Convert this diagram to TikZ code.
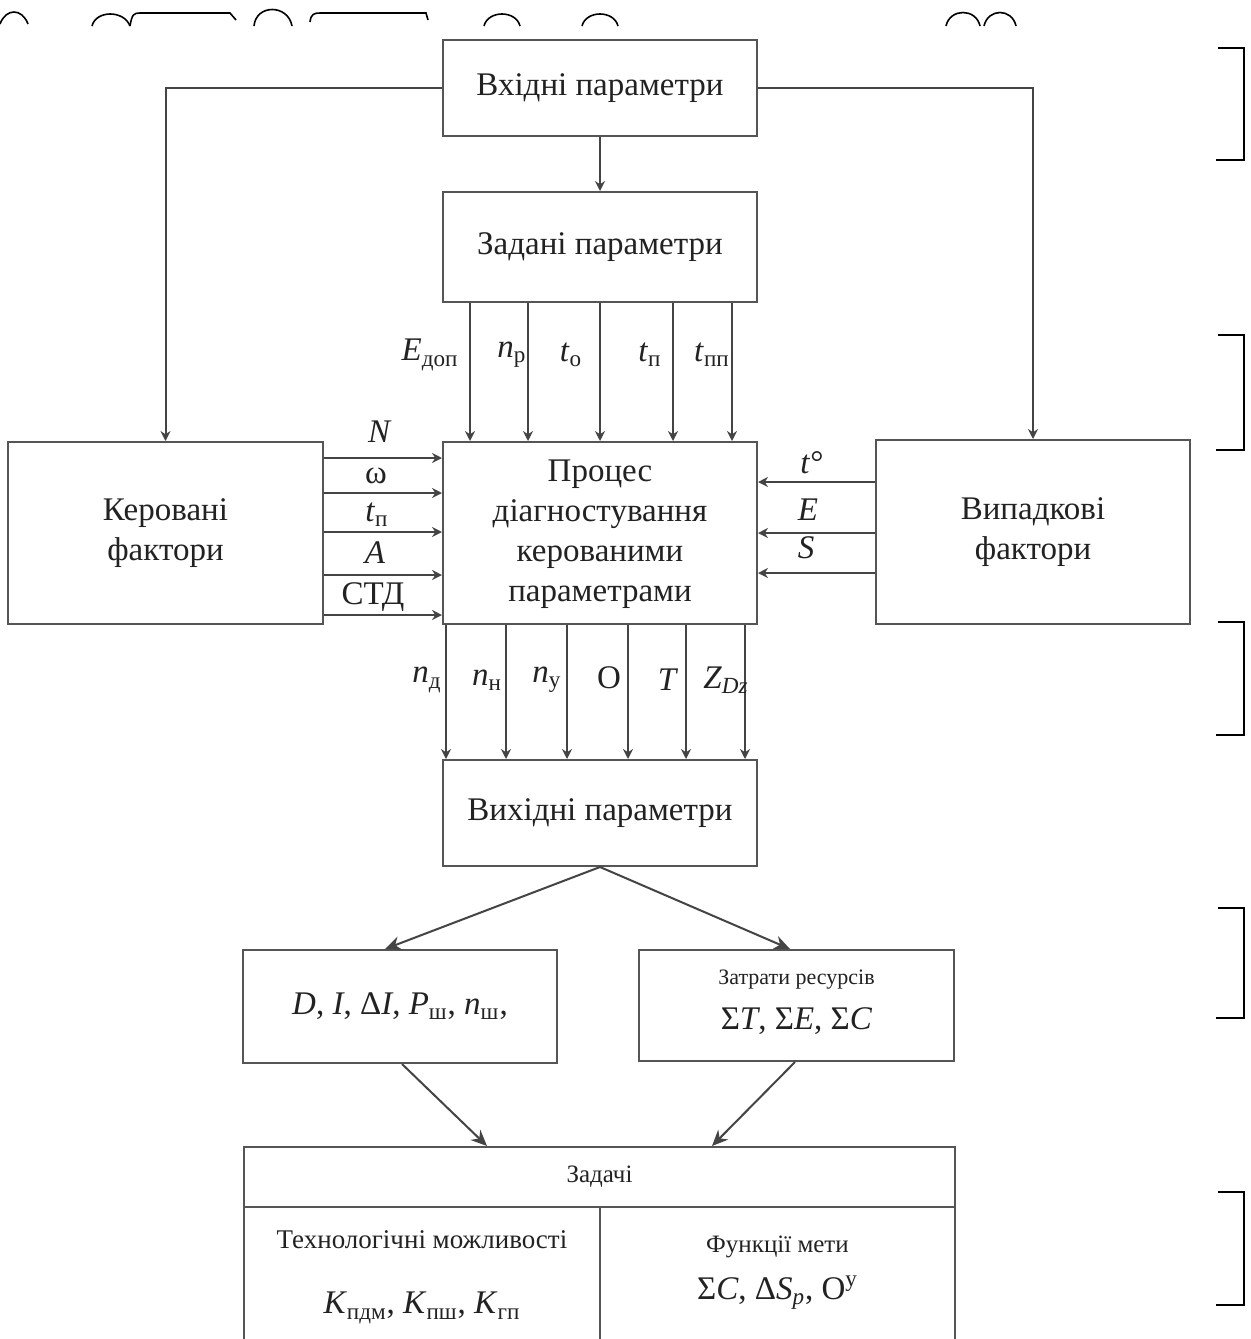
\documentclass[tikz,border=0pt]{standalone}
\usepackage{fontspec}
\setmainfont{Liberation Serif}
\usetikzlibrary{arrows.meta}
\definecolor{boxc}{HTML}{555555}
\definecolor{linec}{HTML}{444444}
\definecolor{txt}{HTML}{222222}
\begin{document}
\begin{tikzpicture}[x=0.5pt,y=-0.5pt,
  box/.style={draw=boxc, line width=1pt, inner sep=0pt, align=center, text=txt,
              font=\fontsize{16.5}{20}\selectfont},
  arr/.style={draw=linec, line width=1pt, -{Stealth[length=5pt,width=5pt]}},
  bigarr/.style={draw=linec, line width=1pt, -{Stealth[length=8pt,width=7pt]}},
  lab/.style={text=txt, inner sep=0pt, font=\fontsize{16.5}{19}\selectfont},
  small/.style={text=txt, inner sep=0pt, font=\fontsize{12.5}{14}\selectfont},
  artf/.style={draw=black, line width=0.8pt}]
\clip (0,0) rectangle (1251,1339);
\fill[white] (0,0) rectangle (1251,1339);

% boxes
\node[box, minimum width=157pt, minimum height=48pt] (in) at (600,88) {Вхідні параметри};
\node[box, minimum width=157pt, minimum height=55pt] (zad) at (600,247) {Задані параметри};
\node[box, minimum width=157.5pt, minimum height=91pt] (ker) at (165.5,533) {Керовані\\фактори};
\node[box, minimum width=157pt, minimum height=91pt] (proc) at (600,533) {\\[-8pt]Процес\\діагностування\\керованими\\параметрами};
\node[box, minimum width=157pt, minimum height=92pt] (vyp) at (1033,532) {Випадкові\\фактори};
\node[box, minimum width=157pt, minimum height=53pt] (vyh) at (600,813) {Вихідні параметри};
\node[box, minimum width=157pt, minimum height=56.5pt] (dbox) at (400,1006.5)
  {\textit{D}, \textit{I}, Δ\textit{I}, \textit{P}\textsubscript{ш}, \textit{n}\textsubscript{ш},};
\node[box, minimum width=157.5pt, minimum height=55.5pt] (zat) at (796.5,1005.5) {};
\node[small, font=\fontsize{11}{13}\selectfont] (zatt) at (796.5,980) {Затрати ресурсів};
\node[lab] (zatf) at (796.5,1021) {Σ\textit{T}, Σ\textit{E}, Σ\textit{C}};

% tasks table
\node[box, minimum width=355.5pt, minimum height=30pt] (zh) at (599.5,1177) {};
\node[small] (zht) at (599.5,1177) {Задачі};
\node[box, minimum width=178pt, minimum height=76.5pt] (zl) at (422,1283.5) {};
\node[box, minimum width=177.5pt, minimum height=76.5pt] (zr) at (777.5,1283.5) {};
\node[small, font=\fontsize{13.5}{15}\selectfont] (zlt) at (422,1240) {Технологічні можливості};
\node[lab] (zlf) at (422,1308) {\textit{K}\textsubscript{пдм}, \textit{K}\textsubscript{пш}, \textit{K}\textsubscript{гп}};
\node[small] (zrt) at (777.5,1247) {Функції мети};
\node[lab] (zrf) at (777.5,1293) {Σ\textit{C}, Δ\textit{S}\textsubscript{\textit{р}}, О\textsuperscript{у}};

% connectors from input
\draw[arr] (in.west) -| (ker.north);
\draw[arr] (in.east) -| (vyp.north);
\draw[arr] (in.south) -- (zad.north);

% given -> process
\foreach \x in {470,528,600,673,732}{
  \coordinate (t) at (\x,0);
  \draw[arr] (zad.south -| t) -- (proc.north -| t);
}
% controlled -> process
\foreach \y in {458,493,532,575,615}{
  \coordinate (t) at (0,\y);
  \draw[arr] (ker.east |- t) -- (proc.west |- t);
}
% random -> process
\foreach \y in {482,533,573}{
  \coordinate (t) at (0,\y);
  \draw[arr] (vyp.west |- t) -- (proc.east |- t);
}
% process -> output
\foreach \x in {446,506,567,628,686,745}{
  \coordinate (t) at (\x,0);
  \draw[arr] (proc.south -| t) -- (vyh.north -| t);
}

% output split
\coordinate (c1) at (385,0);
\coordinate (c2) at (790,0);
\draw[bigarr] (vyh.south) -- (dbox.north -| c1);
\draw[bigarr] (vyh.south) -- (zat.north -| c2);
\coordinate (c3) at (402,0);
\coordinate (c4) at (487,0);
\coordinate (c5) at (795,0);
\coordinate (c6) at (712,0);
\draw[bigarr] (dbox.south -| c3) -- (zh.north -| c4);
\draw[bigarr] (zat.south -| c5) -- (zh.north -| c6);

% labels top
\node[lab] (l1) at (430,355) {\textit{E}\textsubscript{доп}};
\node[lab] (l2) at (512,355) {\textit{n}\textsubscript{р}};
\node[lab] (l3) at (571,355) {\textit{t}\textsubscript{о}};
\node[lab] (l4) at (650,355) {\textit{t}\textsubscript{п}};
\node[lab] (l5) at (712,355) {\textit{t}\textsubscript{пп}};
% labels left
\node[lab] (m1) at (380,432) {\textit{N}};
\node[lab] (m2) at (376,476) {ω};
\node[lab] (m3) at (377,515) {\textit{t}\textsubscript{п}};
\node[lab] (m4) at (375,553) {\textit{A}};
\node[lab] (m5) at (373,597) {СТД};
% labels right
\node[lab] (r1) at (812,463) {\textit{t}°};
\node[lab] (r2) at (808,510) {\textit{E}};
\node[lab] (r3) at (806,548) {\textit{S}};
% labels bottom
\node[lab] (b1) at (427,680) {\textit{n}\textsubscript{д}};
\node[lab] (b2) at (487,680) {\textit{n}\textsubscript{н}};
\node[lab] (b3) at (547,680) {\textit{n}\textsubscript{у}};
\node[lab] (b4) at (609,678) {О};
\node[lab] (b5) at (668,680) {\textit{T}};
\node[lab] (b6) at (726,680) {\textit{Z}\textsubscript{\textit{Dz}}};

% right brackets (scan artefacts)
\foreach \a/\b in {48/160,335/450,622/735,908/1018,1192/1305}{
  \draw[artf] (1218,\a) -- (1244,\a) -- (1244,\b) -- (1216,\b);
}
% top arcs (scan artefacts)
\draw[artf] (0,24) .. controls (6,8) and (22,8) .. (28,24);
\draw[artf] (92,26) .. controls (96,10) and (124,10) .. (130,26);
\draw[artf] (130,26) .. controls (132,14) and (134,13) .. (140,13) -- (230,13) -- (236,20);
\draw[artf] (254,26) .. controls (256,4) and (288,4) .. (292,26);
\draw[artf] (310,22) .. controls (311,14) and (314,13) .. (320,13) -- (426,13) -- (428,20);
\draw[artf] (484,26) .. controls (488,10) and (516,10) .. (520,26);
\draw[artf] (582,26) .. controls (586,10) and (614,10) .. (618,26);
\draw[artf] (946,26) .. controls (950,8) and (976,8) .. (980,26);
\draw[artf] (984,26) .. controls (988,8) and (1012,8) .. (1016,26);
\end{tikzpicture}
\end{document}
